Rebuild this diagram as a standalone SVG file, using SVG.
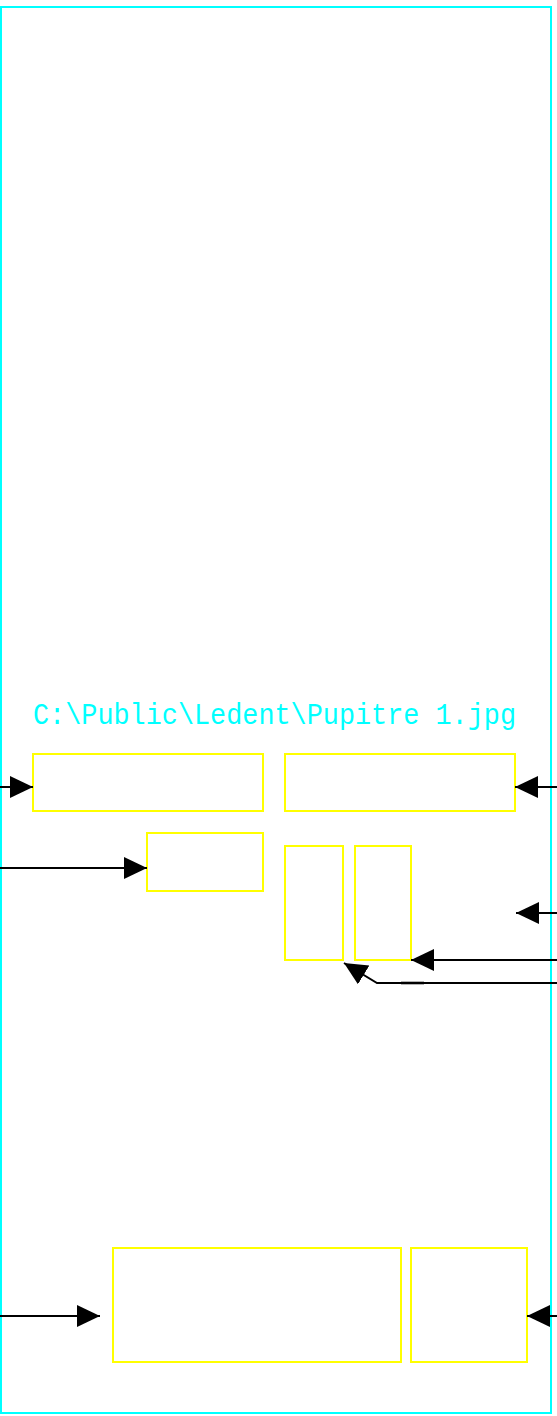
<svg xmlns="http://www.w3.org/2000/svg" width="557" height="1416" viewBox="0 0 557 1416">
<style>
.frame{fill:none;stroke:#00FFFF;stroke-width:2}
.box{fill:none;stroke:#FFFF00;stroke-width:2}
.conn{fill:none;stroke:#000000;stroke-width:2}
.lbl{fill:#00FFFF;font-family:"Liberation Mono","DejaVu Sans Mono",monospace;font-size:29px}
</style>
<defs>
<marker id="ah" markerUnits="userSpaceOnUse" markerWidth="24" markerHeight="23" refX="23" refY="11" orient="auto">
<path d="M0,0 L23,11 L0,22 Z" fill="#000000"/>
</marker>
</defs>
<rect fill="#FFFFFF" x="0" y="0" width="557" height="1416"/>
<g id="frame">
<rect class="frame" x="1" y="7" width="550" height="1406"/>
<text class="lbl" x="33" y="724" textLength="483" lengthAdjust="spacingAndGlyphs">C:\Public\Ledent\Pupitre 1.jpg</text>
</g>
<g id="node1"><rect class="box" x="33" y="754" width="230" height="57"/></g>
<g id="node2"><rect class="box" x="285" y="754" width="230" height="57"/></g>
<g id="node3"><rect class="box" x="147" y="833" width="116" height="58"/></g>
<g id="node4"><rect class="box" x="285" y="846" width="58" height="114"/></g>
<g id="node5"><rect class="box" x="355" y="846" width="56" height="114"/></g>
<g id="node6"><rect class="box" x="113" y="1248" width="288" height="114"/></g>
<g id="node7"><rect class="box" x="411" y="1248" width="116" height="114"/></g>
<g id="connectors">
<line class="conn" x1="-10" y1="787" x2="33" y2="787" marker-end="url(#ah)"/>
<line class="conn" x1="567" y1="787" x2="515" y2="787" marker-end="url(#ah)"/>
<line class="conn" x1="-10" y1="868" x2="147" y2="868" marker-end="url(#ah)"/>
<line class="conn" x1="567" y1="913" x2="516" y2="913" marker-end="url(#ah)"/>
<line class="conn" x1="567" y1="960" x2="411" y2="960" marker-end="url(#ah)"/>
<polyline class="conn" points="567,983 377,983 344,963" marker-end="url(#ah)"/>
<line x1="401" y1="983" x2="424" y2="983" stroke="#000000" stroke-width="2.6"/>
<line class="conn" x1="-10" y1="1316" x2="100" y2="1316" marker-end="url(#ah)"/>
<line class="conn" x1="567" y1="1316" x2="527" y2="1316" marker-end="url(#ah)"/>
</g>
</svg>
